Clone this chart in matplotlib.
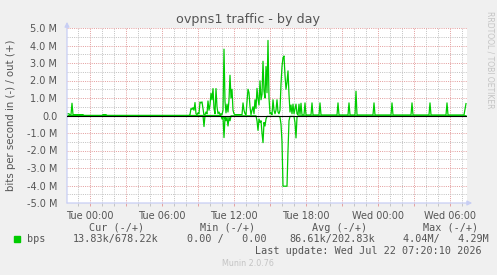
import numpy as np
import matplotlib
matplotlib.use("Agg")
import matplotlib.pyplot as plt
from matplotlib.ticker import MultipleLocator, FuncFormatter

# =========================================================
# Data (time in minutes from Tue 00:00, values in Mbit/s)
# =========================================================
out_min = [-115, -105, -100, -95, -90, -85, -35, -30, 60, 65, 80, 85,
           495, 500, 505, 510, 515, 520, 525, 530, 535, 540, 545, 550,
           555, 560, 565, 570, 575, 580, 585, 590, 595, 600, 605, 610,
           615, 620, 625, 630, 635, 640, 645, 650, 655, 660, 665, 670,
           675, 680, 685, 690, 695, 700, 705, 710, 715, 720, 725, 760,
           765, 770, 775, 780, 785, 790, 795, 800, 805, 810, 815, 820,
           825, 830, 835, 840, 845, 850, 855, 860, 865, 870, 875, 880,
           885, 890, 895, 900, 905, 910, 915, 920, 925, 930, 935, 940,
           945, 950, 955, 960, 965, 970, 975, 980, 985, 990, 995, 1000,
           1005, 1010, 1015, 1020, 1030, 1035, 1040, 1045, 1050, 1055, 1060,
           1070, 1075, 1080, 1105, 1110, 1115, 1145, 1150, 1155,
           1235, 1240, 1245, 1290, 1295, 1300, 1325, 1330, 1335,
           1415, 1420, 1425, 1505, 1510, 1515, 1605, 1610, 1615,
           1695, 1700, 1705, 1780, 1785, 1790, 1870, 1880]
out_val = [0.1, 0.1, 0.02, 0.05, 0.7, 0.05, 0.05, 0.0, 0.0, 0.05, 0.05, 0.0,
           0.0, 0.05, 0.4, 0.35, 0.45, 0.3, 0.74, 0.1, 0.05, 0.15, 0.1, 0.77,
           0.72, 0.78, 0.4, 0.0, 0.05, 0.2, 0.1, 0.83, 0.3, 0.6, 1.27, 0.9,
           1.54, 0.4, 0.1, 1.54, 0.5, 0.1, 0.2, 0.05, 0.1, 0.05, 0.3, 3.79,
           0.8, 0.15, 0.65, 0.2, 0.9, 2.3, 1.0, 1.5, 0.3, 0.1, 0.05, 0.05,
           0.72, 0.3, 0.1, 0.05, 0.8, 1.5, 1.3, 0.5, 0.05, 0.3, 0.5, 0.1,
           0.9, 0.4, 1.55, 0.95, 0.6, 1.98, 0.9, 1.2, 3.1, 1.4, 1.0, 2.8,
           1.3, 4.29, 1.0, 0.1, 0.15, 0.05, 0.9, 0.3, 0.1, 0.3, 0.9, 0.2,
           0.1, 0.3, 1.8, 2.8, 3.3, 3.4, 2.3, 1.5, 1.9, 2.55, 1.2, 0.2,
           0.6, 0.1, 0.65, 0.1, 0.65, 0.1, 0.05, 0.65, 0.05, 0.7, 0.03,
           0.03, 0.72, 0.03, 0.03, 0.72, 0.03, 0.03, 0.72, 0.03,
           0.03, 0.72, 0.03, 0.03, 0.72, 0.03, 0.03, 1.39, 0.03,
           0.03, 0.72, 0.03, 0.03, 0.72, 0.03, 0.03, 0.72, 0.03,
           0.03, 0.72, 0.03, 0.03, 0.72, 0.03, 0.03, 0.68]

in_min = [-115, 565, 570, 575, 655, 660, 665, 670, 675, 680, 685, 690,
          695, 700, 705, 830, 835, 840, 845, 850, 855, 860, 865, 870,
          875, 880, 885, 945, 950, 955, 960, 965, 985, 990, 995, 1000,
          1020, 1025, 1030, 1035, 1040, 1880]
in_val = [0.0, 0.0, 0.63, 0.0, 0.0, 0.2, 0.05, 1.26, 0.1, 0.3, 0.1, 0.6,
          0.1, 0.3, 0.02, 0.02, 0.3, 0.85, 0.2, 0.4, 0.3, 1.0, 1.55, 0.4,
          0.6, 0.2, 0.05, 0.05, 0.1, 0.5, 1.5, 4.04, 4.04, 2.0, 0.3, 0.05,
          0.05, 0.4, 1.28, 0.1, 0.02, 0.014]

xtick_min = [0, 360, 720, 1080, 1440, 1800]
xtick_lab = ["Tue 00:00", "Tue 06:00", "Tue 12:00", "Tue 18:00",
             "Wed 00:00", "Wed 06:00"]

legend_heads = ["Cur (-/+)", "Min (-/+)", "Avg (-/+)", "Max (-/+)"]
legend_vals = ["13.83k/678.22k", "0.00 /   0.00", "86.61k/202.83k",
               "4.04M/   4.29M"]

# =========================================================
# Figure
# =========================================================
W, H = 497, 275
BG = "#F0F0F0"
FONT_C = "#555555"
GREEN = "#00CC00"
AXIS_C = "#C8CEF4"
MGRID = "#E4A0A0"
GRID = "#C4C4C4"


def px(x, y):
    return x / W, 1 - y / H


fig = plt.figure(figsize=(W / 100, H / 100), dpi=100, facecolor=BG)
L, T, R, B = 67, 28, 467, 203
ax = fig.add_axes([L / W, 1 - B / H, (R - L) / W, (B - T) / H])
ax.set_facecolor("white")
for s in ax.spines.values():
    s.set_visible(False)

ax.set_xlim(-115, 1885)
ax.set_ylim(-5, 5)

# grid
ax.xaxis.set_major_locator(MultipleLocator(180))
ax.xaxis.set_minor_locator(MultipleLocator(60))
ax.yaxis.set_major_locator(MultipleLocator(1))
ax.yaxis.set_minor_locator(MultipleLocator(0.5))
ax.grid(which="minor", color=GRID, linestyle=(0, (1, 1.2)), linewidth=0.72)
ax.grid(which="major", color=MGRID, linestyle=(0, (1, 1.2)), linewidth=0.72)
ax.set_axisbelow(True)

ax.xaxis.set_major_formatter(FuncFormatter(
    lambda v, p: xtick_lab[xtick_min.index(int(round(v)))]
    if int(round(v)) in xtick_min else ""))
ax.yaxis.set_major_formatter(FuncFormatter(
    lambda v, p: "0.0" if abs(v) < 1e-9 else f"{v:.1f} M"))

ax.tick_params(axis="y", which="both", length=0, pad=7, labelsize=7,
               labelcolor=FONT_C)
ax.tick_params(axis="x", which="major", length=2.5, width=0.7, color=MGRID,
               pad=3.5, labelsize=7, labelcolor=FONT_C)
ax.tick_params(axis="x", which="minor", length=2.5, width=0.7, color=GRID)

# data lines
ax.plot(out_min, out_val, color=GREEN, linewidth=0.9, zorder=3)
ax.plot(in_min, -np.array(in_val), color=GREEN, linewidth=0.9, zorder=3)
ax.axhline(0, color="black", linewidth=0.8, zorder=4)

# axes with arrows
ax.annotate("", xy=(0, 1.035), xytext=(0, 0), xycoords="axes fraction",
            arrowprops=dict(arrowstyle="-|>", color=AXIS_C, lw=0.9,
                            mutation_scale=7, shrinkA=0, shrinkB=0),
            annotation_clip=False)
ax.annotate("", xy=(1.013, 0), xytext=(0, 0), xycoords="axes fraction",
            arrowprops=dict(arrowstyle="-|>", color=AXIS_C, lw=0.9,
                            mutation_scale=7, shrinkA=0, shrinkB=0),
            annotation_clip=False)

# texts
fig.text(*px(248, 19), "ovpns1 traffic - by day", ha="center", va="center",
         fontsize=9.2, color=FONT_C)
fig.text(*px(11, 115), "bits per second in (-) / out (+)", ha="center",
         va="center", rotation=90, fontsize=7.3, color=FONT_C)
fig.text(*px(490, 60), "RRDTOOL / TOBI OETIKER", ha="center", va="center",
         rotation=270, fontsize=5.5, color="#C4C4C4")

mono = dict(family="DejaVu Sans Mono", fontsize=7.3, color=FONT_C, va="center")
head_x = [89, 200, 312, 423]
val_x = [73, 187, 289, 403]
for hx, h in zip(head_x, legend_heads):
    fig.text(*px(hx, 228), h, ha="left", **mono)
fig.patches.append(plt.Rectangle(px(14, 242), 6 / W, 6 / H, color=GREEN,
                                 transform=fig.transFigure, figure=fig))
fig.text(*px(27, 239), "bps", ha="left", **mono)
for vx, v in zip(val_x, legend_vals):
    fig.text(*px(vx, 239), v, ha="left", **mono)
fig.text(*px(482, 251), "Last update: Wed Jul 22 07:20:10 2026", ha="right",
         **mono)
fig.text(*px(248, 264), "Munin 2.0.76", ha="center", va="center",
         fontsize=5.8, color="#C4C4C4")

fig.savefig("out.png", dpi=100, facecolor=BG)
